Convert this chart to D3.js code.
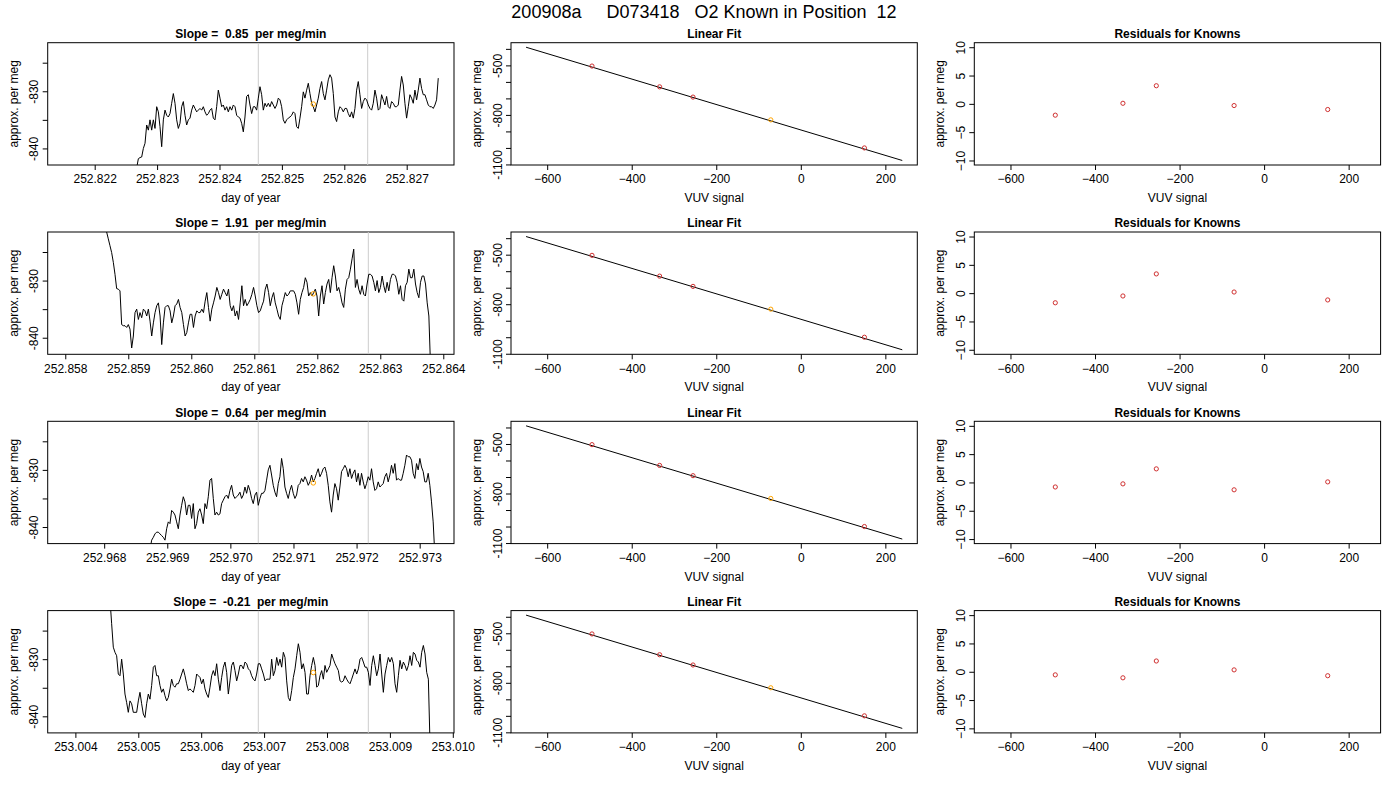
<!DOCTYPE html>
<html>
<head>
<meta charset="utf-8">
<script src="https://cdn.jsdelivr.net/npm/d3@7"></script>
<style>
  body { margin: 0; background: #fff; }
  svg { font-family: "Liberation Sans", Arial, Helvetica, sans-serif; }
</style>
</head>
<body>
<div id="graph"></div>
<script>
'use strict';

// ---- data ----
let mainTitle = '200908a     D073418   O2 Known in Position  12';
let slopes = ['0.85', '1.91', '0.64', '-0.21'];

// left column: time series per run (day of year)
let dayDomains = [
    [252.821247, 252.827758],
    [252.857721, 252.864170],
    [252.967105, 252.973544],
    [253.003560, 253.010019]
];
let dayTicks = [
    [252.822, 252.823, 252.824, 252.825, 252.826, 252.827],
    [252.858, 252.859, 252.860, 252.861, 252.862, 252.863, 252.864],
    [252.968, 252.969, 252.970, 252.971, 252.972, 252.973],
    [253.004, 253.005, 253.006, 253.007, 253.008, 253.009, 253.010]
];
let seriesStart = [252.822673, 252.858630, 252.968726, 253.004550];
let seriesStep = [0.0000267, 0.0000265, 0.0000264, 0.0000265];
let windowLines = [
    [252.824622, 252.826375],
    [252.861075, 252.862810],
    [252.970442, 252.972185],
    [253.006908, 253.008657]
];
let markDay = [252.825503, 252.861937, 252.971314, 253.007782];
let markValue = [-832.25, -832.32, -832.27, -832.33];

let run1 = [
    -843.4, -841.8, -841.6, -841.5, -840.0, -839.1, -835.9, -836.8, -835.0, -836.8,
    -835.0, -836.5, -832.7, -833.6, -836.2, -839.7, -835.0, -833.3, -834.2, -834.5,
    -833.9, -832.1, -830.4,
    -832.1, -835.0, -836.5, -835.6, -832.7, -831.8, -834.2, -835.9, -835.0, -834.7,
    -833.3, -832.4, -833.0, -833.6, -833.3, -833.0, -833.3, -832.7, -833.6, -834.2,
    -833.9, -833.3, -833.0, -834.7, -835.0, -832.7, -829.8, -831.2, -832.7, -832.4,
    -833.3, -832.7, -833.6, -832.7, -833.3, -832.4, -832.7, -834.2, -834.5, -834.7,
    -835.6, -837.1, -834.5, -830.9, -830.6, -832.4, -833.9, -832.7, -832.7, -833.3,
    -831.2, -829.2, -830.6, -833.3, -832.1, -832.7, -832.1, -832.7, -831.8, -832.4,
    -833.0, -832.4, -831.2, -831.5, -832.7, -835.0, -835.6, -835.0, -834.7, -834.5,
    -834.2, -833.6, -833.9,
    -836.2, -836.5, -834.7, -832.7, -830.1, -831.2, -829.8, -828.6, -830.4, -832.1,
    -832.7, -833.6, -832.4, -831.2, -829.5, -828.3, -830.4, -831.5, -829.8, -828.0,
    -827.1, -827.7, -830.4, -834.5, -835.3, -833.6, -832.7, -833.0, -833.6, -833.0,
    -833.0, -833.9, -834.5, -833.6, -834.7, -833.0, -829.8, -828.3, -830.6, -833.0,
    -831.8, -831.2, -831.5, -832.4, -833.0, -833.3, -832.1, -829.8, -831.2, -833.3,
    -833.0, -830.6, -831.5, -832.4, -830.9, -832.7, -833.0, -831.8, -832.1, -832.7,
    -832.7, -832.4, -829.8, -827.4, -828.9, -832.1, -834.7, -832.7, -830.6, -831.2,
    -832.1, -829.8, -831.5, -829.8, -827.7, -829.5, -830.6, -830.6, -831.5, -832.4,
    -832.7, -832.7, -833.0, -832.4, -831.5, -827.7
];
let run2 = [
    -819.0, -821.5, -822.7, -823.9, -825.1, -826.8, -828.9, -831.4, -831.5, -831.8,
    -837.7, -837.9, -837.9, -838.2, -837.7, -838.5, -841.8, -839.7, -835.6, -835.0,
    -836.8, -835.6, -836.5, -835.0, -835.3, -836.2, -835.0, -837.1, -839.7, -837.4,
    -835.6, -834.4, -833.9, -836.2, -841.2, -837.4, -834.7, -834.4, -834.4, -835.3,
    -837.4, -836.2, -834.4, -834.1, -833.3, -834.7, -835.6, -837.7, -839.7, -839.1,
    -837.4, -835.9, -835.9, -838.2, -836.2, -835.3, -835.6, -835.6, -835.0, -835.6,
    -833.6, -832.1, -834.7, -837.1, -835.0, -833.9, -832.7, -831.2, -832.1, -833.3,
    -832.4, -831.5, -832.1, -832.7, -831.5, -834.4, -835.3, -834.4, -836.2, -835.3,
    -836.8, -833.9, -830.9, -834.4, -833.3, -834.4, -833.9, -833.3, -832.4, -831.2,
    -832.7, -834.4, -835.6, -835.3, -834.4, -833.6, -831.5, -830.6, -832.1, -834.4,
    -833.0, -832.1, -833.9, -835.0, -836.2, -836.8, -834.4, -833.3, -832.1, -832.7,
    -832.4, -831.8, -831.8, -831.8, -832.4, -833.9, -835.9, -833.3, -832.1, -831.2,
    -829.5, -830.3, -832.7, -832.1, -832.7, -832.1, -831.5, -832.7, -836.2, -832.7,
    -830.9, -834.1, -832.1, -830.6, -829.8, -832.1, -829.5, -827.4, -829.2, -831.8,
    -831.2, -832.4, -833.9, -834.7, -831.5, -829.8, -829.5, -828.0, -826.2, -824.5,
    -831.2, -829.8, -831.5, -832.4, -830.9, -832.4, -832.7, -830.6, -828.9, -828.9,
    -829.2, -830.3, -831.8, -830.0, -832.1, -831.2, -829.2, -830.9, -832.1, -830.3,
    -831.8, -829.8, -828.9, -828.9, -829.2, -830.3, -832.4, -830.9, -833.3, -833.6,
    -830.9, -830.3, -828.0, -829.5, -829.5, -828.0, -830.6, -832.1, -833.0, -830.3,
    -829.2, -829.2, -830.6, -833.9, -836.2, -845.0
];
let run3 = [
    -844.0, -842.3, -841.8, -841.2, -840.9, -840.9, -841.2, -841.5, -841.8, -842.3,
    -840.3, -839.1, -839.4, -837.1, -837.4, -837.9, -839.1, -840.3, -837.9, -836.2,
    -834.7, -835.6, -837.9, -836.2, -836.2, -838.5, -835.9, -840.3, -839.4, -837.4,
    -836.8, -837.9, -839.4, -835.9, -836.8, -834.7, -831.8, -831.5, -835.0, -837.9,
    -837.4, -837.9, -837.7, -835.9, -835.3, -834.7, -834.4, -835.0, -833.6, -832.7,
    -834.4, -835.0, -834.7, -834.4, -833.9, -835.0, -834.4, -833.0, -834.1, -832.7,
    -833.6, -835.0, -835.9, -834.4, -833.9, -836.2, -835.0, -834.1, -834.1, -833.6,
    -831.8, -830.0, -829.2, -830.9, -832.7, -833.9, -834.7, -832.4, -831.2, -828.0,
    -829.8, -833.0, -834.1, -835.0, -833.6, -832.7, -834.1, -835.0, -834.4, -832.7,
    -832.4,
    -831.5, -832.1, -831.2, -831.8, -832.7, -832.1, -830.9, -832.1, -831.5, -830.6,
    -829.8, -831.2, -830.6, -829.8, -829.5, -830.6, -832.7, -835.6, -837.4, -834.4,
    -832.4, -833.3, -835.3, -833.0, -830.3, -829.8, -829.2, -829.8, -831.2, -829.8,
    -831.5, -830.6, -830.0, -832.1, -830.6, -832.7, -830.6, -832.1, -833.3, -832.4,
    -831.2, -831.8, -829.8, -832.1, -833.6, -833.3, -832.1, -833.0, -832.7, -832.4,
    -831.2, -830.6, -832.1, -830.9, -829.2, -830.6, -828.9, -831.8, -831.5, -831.8,
    -831.8, -830.6, -829.2, -827.4, -827.7, -827.7, -828.3, -830.6, -831.5, -828.9,
    -830.0, -828.0, -829.5, -830.3, -832.1, -832.1, -830.6, -832.7, -835.6, -839.1,
    -845.0
];
let run4 = [
    -819.5, -823.8, -827.9, -828.8, -829.4, -832.6, -832.9, -830.0, -832.6, -836.1,
    -837.6, -839.3, -837.3, -837.8, -839.3, -839.3, -839.3, -837.3, -835.8, -837.8,
    -839.6, -840.2, -837.8, -836.1, -837.0, -834.6, -831.4, -831.1, -832.9, -832.9,
    -834.6, -835.8, -835.2, -836.4, -837.3, -836.7, -835.2, -833.5, -834.6, -834.9,
    -834.3, -834.3, -833.5, -832.6, -831.7, -832.9, -834.3, -835.5, -835.2, -835.5,
    -835.8, -834.6, -832.6, -832.9, -833.2, -834.3, -833.5, -835.2, -836.1, -836.7,
    -834.9, -832.9, -832.0, -832.9, -830.8, -833.5, -835.5, -833.2, -831.4, -830.5,
    -832.3, -836.1, -833.8, -831.1, -830.5, -832.0, -833.8, -832.6, -831.1, -831.1,
    -831.7, -830.5, -830.8, -831.7, -832.0, -832.9, -833.5, -833.8, -832.6, -830.8,
    -830.8, -831.7, -832.6, -833.8, -833.5, -833.5, -833.5,
    -830.0, -832.9, -832.0, -829.7, -831.1, -830.0, -831.4, -828.8, -829.7, -833.8,
    -836.7, -837.3, -835.5, -833.2, -831.7, -829.4, -827.3, -828.8, -831.7, -830.8,
    -832.3, -836.1, -836.1, -832.9, -831.1, -829.7, -831.1, -834.9, -834.6, -832.9,
    -832.0, -833.5, -831.1, -832.3, -831.7, -831.1, -829.1, -830.0, -830.8, -831.4,
    -832.0, -833.8, -834.0, -833.8, -832.9, -833.5, -834.0, -834.3, -833.5, -832.6,
    -831.7, -832.6, -831.7, -830.0, -829.7, -830.5, -831.4, -831.4, -832.3, -834.6,
    -831.1, -829.4, -831.1, -832.9, -831.7, -829.1, -832.6, -835.8, -832.6, -831.1,
    -829.7, -830.5, -829.7, -830.8, -834.3, -835.8, -832.9, -830.2, -831.7, -830.5,
    -831.1, -832.0, -831.1, -829.4, -831.1, -828.8, -829.1, -830.2, -830.5, -831.4,
    -828.8, -827.6, -829.1, -832.3, -833.5, -845.0
];
let runs = [run1, run2, run3, run4];
let megDomain = [-842.9, -821.5];
let megTicks = [-840, -835, -830, -825];
let megLabels = ['-840', '', '-830', ''];

// middle column: calibration fit of the knowns (same in every row)
let vuvDomain = [-685.6, 275.6];
let vuvTicks = [-600, -400, -200, 0, 200];
let knownVuv = [-494, -334, -255, -71, 150.5];
let knownMeg = [-504, -630, -692, -830, -1000];
let sampleIndex = 3; // the orange one
let fitVuv = [-650, 240];
let fitMeg = [-390, -1076];
let fitDomain = [-1103.4, -362.6];
let fitTicks = [-1100, -1000, -900, -800, -700, -600, -500, -400];
let fitLabels = ['-1100', '', '', '-800', '', '', '-500', ''];

// right column: residuals per row
let residuals = [
    [-2.0, 0.1, 3.2, -0.3, -1.0],
    [-1.7, -0.5, 3.4, 0.2, -1.2],
    [-0.8, -0.25, 2.4, -1.3, 0.1],
    [-0.55, -1.07, 1.9, 0.33, -0.7]
];
let residDomain = [-10.8, 10.8];
let residTicks = [-10, -5, 0, 5, 10];

// ---- layout ----
let w = 1400, h = 800;
let colStep = 463.3, rowStep = 189.3;
let boxLeft = 47.7, boxTop = 42.7, boxW = 406.3, boxH = 122.3;
let svg = d3.select('#graph').append('svg').attr('width', w).attr('height', h);

svg.append('text')
    .attr('x', 704).attr('y', 18)
    .attr('text-anchor', 'middle')
    .attr('font-size', 18)
    .style('white-space', 'pre')
    .text(mainTitle);

let frame = function(row, col){
    let x0 = boxLeft + col * colStep, y0 = boxTop + row * rowStep;
    let g = svg.append('g').attr('transform', `translate(${x0},${y0})`);
    return {g: g, w: boxW, h: boxH, id: `clip${row}${col}`};
};

let decorate = function(f, xs, ys, opts){
    let g = f.g;
    let ax = g.append('g')
        .attr('transform', `translate(0,${f.h})`)
        .call(d3.axisBottom(xs).tickValues(opts.xTicks).tickFormat(opts.xFmt).tickSize(5).tickSizeOuter(0));
    let ay = g.append('g')
        .call(d3.axisLeft(ys).tickValues(opts.yTicks).tickFormat(opts.yFmt).tickSize(5).tickSizeOuter(0));
    [ax, ay].forEach(function(a){
        a.attr('font-size', 12).attr('font-family', null);
        a.select('.domain').remove();
        a.selectAll('line').attr('stroke', '#000');
        a.selectAll('text').attr('fill', '#000');
    });
    ax.selectAll('text').attr('y', 18.3).attr('dy', 0);
    ay.selectAll('text') //R draws y labels parallel to the axis
        .attr('x', 0).attr('y', -9.5).attr('dy', 0)
        .attr('transform', 'rotate(-90)')
        .attr('text-anchor', 'middle');

    g.append('rect')
        .attr('width', f.w).attr('height', f.h)
        .attr('fill', 'none').attr('stroke', '#000').attr('stroke-width', 1);

    g.append('text')
        .attr('x', f.w / 2).attr('y', -4.8)
        .attr('text-anchor', 'middle')
        .attr('font-size', 12).attr('font-weight', 'bold')
        .style('white-space', 'pre')
        .text(opts.title);
    g.append('text')
        .attr('x', f.w / 2).attr('y', f.h + 37)
        .attr('text-anchor', 'middle')
        .attr('font-size', 12)
        .text(opts.xLabel);
    g.append('text')
        .attr('transform', `translate(-30,${f.h / 2})rotate(-90)`)
        .attr('text-anchor', 'middle')
        .attr('font-size', 12)
        .text('approx. per meg');

    g.append('clipPath').attr('id', f.id)
        .append('rect').attr('width', f.w).attr('height', f.h);
    return g.append('g').attr('clip-path', `url(#${f.id})`);
};

runs.forEach(function(values, r){
    // time series of the run
    let f = frame(r, 0);
    let x = d3.scaleLinear().domain(dayDomains[r]).range([0, f.w]);
    let y = d3.scaleLinear().domain(megDomain).range([f.h, 0]);
    let plot = decorate(f, x, y, {
        xTicks: dayTicks[r], xFmt: d3.format('.3f'),
        yTicks: megTicks, yFmt: function(d, i){ return megLabels[i]; },
        title: `Slope =  ${slopes[r]}  per meg/min`, xLabel: 'day of year'
    });
    plot.selectAll('.window').data(windowLines[r]).enter().append('line').classed('window', true)
        .attr('x1', function(d){ return x(d); }).attr('x2', function(d){ return x(d); })
        .attr('y1', 0).attr('y2', f.h)
        .attr('stroke', '#cccccc').attr('stroke-width', 1);
    let pts = values.map(function(v, i){ return {t: seriesStart[r] + i * seriesStep[r], v: v}; });
    plot.append('path').datum(pts)
        .attr('fill', 'none').attr('stroke', '#000').attr('stroke-width', 1)
        .attr('d', d3.line().x(function(d){ return x(d.t); }).y(function(d){ return y(d.v); }));
    plot.append('circle')
        .attr('cx', x(markDay[r])).attr('cy', y(markValue[r])).attr('r', 2.3)
        .attr('fill', 'none').attr('stroke', 'orange').attr('stroke-width', 1);

    // linear fit
    let f2 = frame(r, 1);
    let x2 = d3.scaleLinear().domain(vuvDomain).range([0, f2.w]);
    let y2 = d3.scaleLinear().domain(fitDomain).range([f2.h, 0]);
    let plot2 = decorate(f2, x2, y2, {
        xTicks: vuvTicks, xFmt: d3.format('d'),
        yTicks: fitTicks, yFmt: function(d, i){ return fitLabels[i]; },
        title: 'Linear Fit', xLabel: 'VUV signal'
    });
    plot2.append('line')
        .attr('x1', x2(fitVuv[0])).attr('y1', y2(fitMeg[0]))
        .attr('x2', x2(fitVuv[1])).attr('y2', y2(fitMeg[1]))
        .attr('stroke', '#000').attr('stroke-width', 1);
    plot2.selectAll('.known').data(knownVuv).enter().append('circle').classed('known', true)
        .attr('cx', function(d){ return x2(d); })
        .attr('cy', function(d, i){ return y2(knownMeg[i]); })
        .attr('r', 2.1)
        .attr('fill', 'none').attr('stroke-width', 1)
        .attr('stroke', function(d, i){ return i === sampleIndex ? 'orange' : '#d03030'; });

    // residuals
    let f3 = frame(r, 2);
    let x3 = d3.scaleLinear().domain(vuvDomain).range([0, f3.w]);
    let y3 = d3.scaleLinear().domain(residDomain).range([f3.h, 0]);
    let plot3 = decorate(f3, x3, y3, {
        xTicks: vuvTicks, xFmt: d3.format('d'),
        yTicks: residTicks, yFmt: d3.format('d'),
        title: 'Residuals for Knowns', xLabel: 'VUV signal'
    });
    plot3.selectAll('.resid').data(knownVuv).enter().append('circle').classed('resid', true)
        .attr('cx', function(d){ return x3(d); })
        .attr('cy', function(d, i){ return y3(residuals[r][i]); })
        .attr('r', 2.1)
        .attr('fill', 'none').attr('stroke', '#d03030').attr('stroke-width', 1);
});
</script>
</body>
</html>
